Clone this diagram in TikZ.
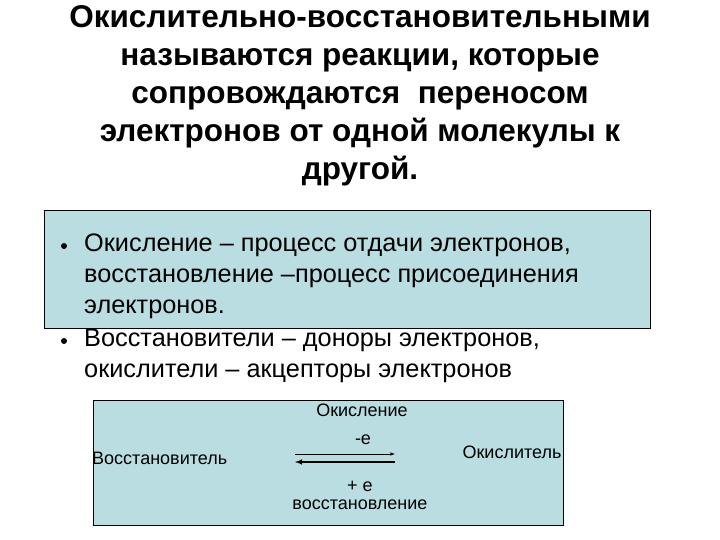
\documentclass[tikz,border=0pt]{standalone}
\usepackage{fontspec}
\setmainfont{Liberation Sans}
\definecolor{boxfill}{HTML}{BADDE1}
\begin{document}
\begin{tikzpicture}[x=1pt,y=-1pt,
  title/.style={font=\bfseries\fontsize{31.5}{38}\selectfont,align=center},
  btext/.style={font=\fontsize{25.3}{31}\selectfont,align=left,anchor=north west,inner sep=0pt},
  bdot/.style={circle,fill=black,inner sep=0pt,minimum size=6pt},
  small/.style={font=\fontsize{18}{20}\selectfont},
  frame/.style={draw=black,fill=boxfill,line width=0.8pt}]
\useasboundingbox (0,0) rectangle (720,540);
\node[title] (t) at (360,96) {Окислительно-восстановительными\\называются реакции, которые\\сопровождаются\ \ переносом\\электронов от одной молекулы к\\другой.};
\node[frame,minimum width=606,minimum height=118,anchor=north west] (b1) at (44,210) {};
\node[bdot] (p1) at (64,246) {};
\node[btext] (l1) at (84,234) {Окисление – процесс отдачи электронов,\\восстановление –процесс присоединения\\электронов.};
\node[bdot] (p2) at (64,341) {};
\node[btext] (l2) at (84,329) {Восстановители – доноры электронов,\\окислители – акцепторы электронов};
\node[frame,minimum width=470,minimum height=125,anchor=north west] (b2) at (93,400) {};
\node[small] (ok) at (362,410) {Окисление};
\node[small,anchor=west,inner sep=0pt] (vs) at (92,458) {Восстановитель};
\node[small] (oks) at (512,452) {Окислитель};
\node[small] (me) at (363,440) {-е};
\node[small] (pe) at (360,486) {+ е};
\node[small] (vos) at (360,505) {восстановление};
\coordinate (a1) at (295,454);
\coordinate (a2) at (395,454);
\coordinate (a3) at (395,462);
\coordinate (a4) at (295,462);
\draw[-latex,line width=0.6pt] (a1) -- (a2);
\draw[-latex,line width=1.4pt] (a3) -- (a4);
\end{tikzpicture}
\end{document}
